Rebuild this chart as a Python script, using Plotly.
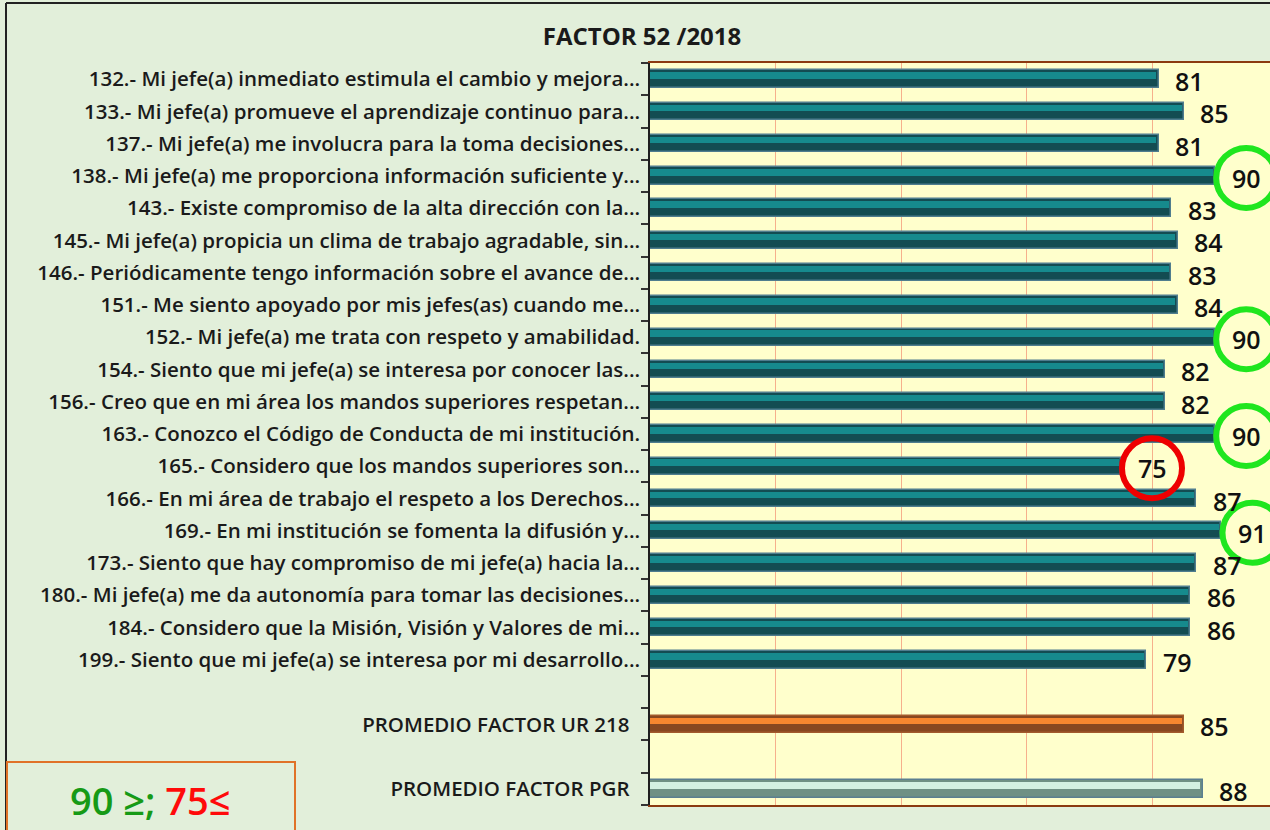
import plotly.graph_objects as go

# ---------------- data ----------------
item_labels = [
    "132.- Mi jefe(a) inmediato estimula el cambio y mejora...",
    "133.- Mi jefe(a) promueve el aprendizaje continuo para...",
    "137.- Mi jefe(a) me involucra para la toma decisiones...",
    "138.- Mi jefe(a) me proporciona información suficiente y...",
    "143.- Existe compromiso de la alta dirección con la...",
    "145.- Mi jefe(a) propicia un clima de trabajo agradable, sin...",
    "146.- Periódicamente tengo información sobre el avance de...",
    "151.- Me siento apoyado por mis jefes(as) cuando me...",
    "152.- Mi jefe(a) me trata con respeto y amabilidad.",
    "154.- Siento que mi jefe(a) se interesa por conocer las...",
    "156.- Creo que en mi área los mandos superiores respetan...",
    "163.- Conozco el Código de Conducta de mi institución.",
    "165.- Considero que los mandos superiores son...",
    "166.- En mi área de trabajo el respeto a los Derechos...",
    "169.- En mi institución se fomenta la difusión y...",
    "173.- Siento que hay compromiso de mi jefe(a) hacia la...",
    "180.- Mi jefe(a) me da autonomía para tomar las decisiones...",
    "184.- Considero que la Misión, Visión y Valores de mi...",
    "199.- Siento que mi jefe(a) se interesa por mi desarrollo...",
]
item_values = [81, 85, 81, 90, 83, 84, 83, 84, 90, 82, 82, 90, 75, 87, 91, 87, 86, 86, 79]

avg_labels = ["PROMEDIO FACTOR UR 218", "PROMEDIO FACTOR PGR"]
avg_values = [85, 88]

title_text = "FACTOR 52 /2018"
high_threshold = 90
low_threshold = 75

# ---------------- layout helpers ----------------
W, H = 1270, 830
ML, MR, MT, MB = 650, 0, 63, 25
PX_PER_UNIT = 6.28
x_max = (W - ML - MR) / PX_PER_UNIT

item_rows = list(range(len(item_values)))
avg_rows = [len(item_values) + 1, len(item_values) + 3]
rows = item_rows + avg_rows
labels = item_labels + [a + "\u00a0\u00a0" for a in avg_labels]
values = item_values + avg_values
n_slots = avg_rows[-1] + 1

base_colors = ["#134c52"] * len(item_values) + ["#884720", "#6f9084"]
edge_colors = ["#4f7d8e"] * len(item_values) + ["#a25a2c", "#5b7f90"]
hi_colors = ["#168a8d"] * len(item_values) + ["#f7862f", "#d3f0e2"]

FONT = "Open Sans"
LBL_DX = 31
LBL_DY = -2

fig = go.Figure()
fig.add_trace(go.Bar(
    x=values, y=rows, orientation="h", width=0.54, offset=-0.27,
    marker=dict(color=base_colors, line=dict(color=edge_colors, width=1.5)),
    hoverinfo="skip", showlegend=False,
))
fig.add_trace(go.Bar(
    x=[v - 0.35 for v in values], y=rows, orientation="h", width=0.2, offset=-0.21,
    marker=dict(color=hi_colors, line=dict(width=0)),
    hoverinfo="skip", showlegend=False,
))

annotations = []
shapes = []
for r, v in zip(rows, values):
    annotations.append(dict(
        x=v, y=r, xref="x", yref="y", text=str(v), showarrow=False,
        xanchor="center", yanchor="middle", xshift=LBL_DX, yshift=LBL_DY,
        font=dict(family=FONT, size=25, color="#111111", weight=600),
    ))

for r, v in zip(item_rows, item_values):
    col = None
    if v >= high_threshold:
        col = "#1fe61f"
    elif v <= low_threshold:
        col = "#ee0000"
    if col:
        shapes.append(dict(
            type="circle", xref="x", yref="y", xsizemode="pixel", ysizemode="pixel",
            xanchor=v, yanchor=r, x0=LBL_DX - 30, x1=LBL_DX + 30,
            y0=LBL_DY - 30, y1=LBL_DY + 30,
            line=dict(color=col, width=6), layer="above",
        ))

pw = W - ML - MR
ph = H - MT - MB
def px(x):
    return (x - ML) / pw
def py(y):
    return (H - MB - y) / ph

# outer frame (left & top)
shapes.append(dict(type="line", xref="paper", yref="paper",
                   x0=px(6), x1=px(6), y0=py(3), y1=py(H + 5),
                   line=dict(color="#222222", width=2)))
shapes.append(dict(type="line", xref="paper", yref="paper",
                   x0=px(6), x1=px(W + 5), y0=py(3), y1=py(3),
                   line=dict(color="#222222", width=2)))
# legend box
shapes.append(dict(type="rect", xref="paper", yref="paper",
                   x0=px(7), x1=px(295), y0=py(762), y1=py(H + 10),
                   line=dict(color="#e07228", width=2), fillcolor="rgba(0,0,0,0)"))
annotations.append(dict(
    x=px(150), y=py(800), xref="paper", yref="paper", showarrow=False,
    xanchor="center", yanchor="middle",
    text='<span style="color:#169a16">90 ≥;</span> <span style="color:#ff0a0a">75≤</span>',
    font=dict(family=FONT, size=38, weight=600),
))

fig.update_layout(
    width=W, height=H,
    margin=dict(l=ML, r=MR, t=MT, b=MB, pad=0),
    paper_bgcolor="#e2efda",
    plot_bgcolor="#ffffcc",
    barmode="overlay",
    bargap=0,
    title=dict(text="<b>" + title_text + "</b>", x=642 / W, xanchor="center",
               y=1 - 37 / H, yanchor="middle", yref="container",
               font=dict(family=FONT, size=24, color="#1a1a1a")),
    xaxis=dict(range=[0, x_max], dtick=20, tick0=0, showticklabels=False,
               showgrid=True, gridcolor="#f6b08c", gridwidth=1, zeroline=False,
               showline=True, mirror=True, linecolor="#8b3a10", linewidth=2,
               ticks="", fixedrange=True),
    yaxis=dict(range=[n_slots - 0.5, -0.5], tickmode="array", tickvals=rows, ticktext=labels,
               ticks="", showgrid=False, zeroline=False, automargin=False,
               showline=True, linecolor="#1e1e1e", linewidth=1.5,
               ticklabelstandoff=4,
               tickfont=dict(family=FONT, size=20.5, color="#1a1a1a", weight=600),
               minor=dict(tickmode="array", tickvals=[i - 0.5 for i in range(n_slots + 1)],
                          ticks="outside", ticklen=7, tickcolor="#333333", tickwidth=1.5,
                          showgrid=False)),
    annotations=annotations,
    shapes=shapes,
)

fig.write_html(
    "out.html",
    config={"displayModeBar": False},
    post_script="document.body.style.margin='0';document.body.style.overflow='hidden';",
)
